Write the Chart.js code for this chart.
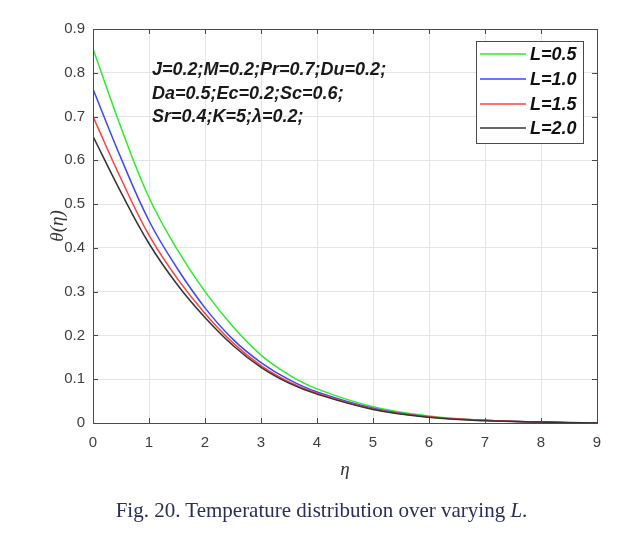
<!DOCTYPE html>
<html><head><meta charset="utf-8">
<script src="https://cdn.jsdelivr.net/npm/chart.js@4.4.1/dist/chart.umd.min.js"></script>
<style>
html,body{margin:0;padding:0;background:#fff;}
#wrap{position:relative;width:629px;height:545px;overflow:hidden;}
#c{position:absolute;left:0;top:0;}
#cap{position:absolute;left:0;width:643px;top:497px;text-align:center;font-family:"Liberation Serif","Times New Roman",serif;font-size:21px;line-height:26px;color:#2b2d5e;white-space:nowrap;}
</style></head><body>
<div id="wrap"><canvas id="c" width="629" height="545"></canvas>
<div id="cap">Fig. 20. Temperature distribution over varying <i>L</i>.</div></div>
<script>
// ---- data ----
const eta = [0, 0.5, 1, 1.5, 2, 2.5, 3, 3.5, 4, 5, 6, 7, 8, 9];
const seriesLabels = ['L=0.5', 'L=1.0', 'L=1.5', 'L=2.0'];
const thetaL05 = [0.855, 0.675, 0.515, 0.397, 0.300, 0.220, 0.155, 0.110, 0.078, 0.037, 0.016, 0.006, 0.002, 0.000];
const thetaL10 = [0.763, 0.605, 0.462, 0.354, 0.263, 0.191, 0.138, 0.099, 0.071, 0.034, 0.014, 0.006, 0.002, 0.000];
const thetaL15 = [0.700, 0.558, 0.429, 0.331, 0.250, 0.183, 0.131, 0.094, 0.068, 0.032, 0.014, 0.006, 0.002, 0.000];
const thetaL20 = [0.655, 0.527, 0.410, 0.317, 0.241, 0.177, 0.127, 0.091, 0.066, 0.031, 0.013, 0.005, 0.002, 0.000];
const xTicks = [0, 1, 2, 3, 4, 5, 6, 7, 8, 9];
const yTicks = [0, 0.1, 0.2, 0.3, 0.4, 0.5, 0.6, 0.7, 0.8, 0.9];
const yTickLabels = ['0', '0.1', '0.2', '0.3', '0.4', '0.5', '0.6', '0.7', '0.8', '0.9'];
const annotationLines = ['J=0.2;M=0.2;Pr=0.7;Du=0.2;', 'Da=0.5;Ec=0.2;Sc=0.6;', 'Sr=0.4;K=5;\u03bb=0.2;'];
const xTitle = '\u03b7';
const yTitle = '\u03b8(\u03b7)';

const seriesValues = [thetaL05, thetaL10, thetaL15, thetaL20];
const seriesColors = ['#2aee2a', '#3a46ff', '#ff3f3f', '#333333'];

const datasets = seriesValues.map((vals, i) => ({
  label: seriesLabels[i],
  data: eta.map((x, j) => ({x: x, y: vals[j]})),
  borderColor: seriesColors[i],
  borderWidth: 1.5,
  pointRadius: 0,
  fill: false,
  tension: 0.4,
  order: seriesValues.length - 1 - i
}));

const framePlugin = {
  id: 'frame',
  afterDraw(chart) {
    const ctx = chart.ctx, a = chart.chartArea;
    const xs = chart.scales.x, ys = chart.scales.y;
    ctx.save();
    ctx.strokeStyle = '#4a4a4a';
    ctx.lineWidth = 1;
    ctx.strokeRect(Math.round(a.left) + 0.5, Math.round(a.top) + 0.5, Math.round(a.right - a.left), Math.round(a.bottom - a.top));
    const tl = 5;
    ctx.beginPath();
    xTicks.forEach(v => {
      const px = Math.round(xs.getPixelForValue(v)) + 0.5;
      ctx.moveTo(px, a.bottom); ctx.lineTo(px, a.bottom - tl);
      ctx.moveTo(px, a.top); ctx.lineTo(px, a.top + tl);
    });
    yTicks.forEach(v => {
      const py = Math.round(ys.getPixelForValue(v)) + 0.5;
      ctx.moveTo(a.left, py); ctx.lineTo(a.left + tl, py);
      ctx.moveTo(a.right, py); ctx.lineTo(a.right - tl, py);
    });
    ctx.stroke();
    ctx.fillStyle = '#1a1a1a';
    ctx.font = 'italic bold 18px "Liberation Sans", Arial, sans-serif';
    ctx.textBaseline = 'middle';
    ctx.textAlign = 'left';
    const ay = [70, 94, 117];
    annotationLines.forEach((t, i) => ctx.fillText(t, 152, ay[i]));
    const lx = 476, ly = 41, lw = 107, lh = 102;
    ctx.fillStyle = '#fff';
    ctx.fillRect(lx, ly, lw, lh);
    ctx.strokeStyle = '#4a4a4a';
    ctx.strokeRect(lx + 0.5, ly + 0.5, lw, lh);
    const rows = [54, 79, 104, 128];
    chart.data.datasets.forEach((ds, i) => {
      ctx.strokeStyle = ds.borderColor;
      ctx.lineWidth = 1.5;
      ctx.beginPath();
      ctx.moveTo(480, rows[i]); ctx.lineTo(526, rows[i]);
      ctx.stroke();
      ctx.fillStyle = '#111';
      ctx.fillText(ds.label, 530, rows[i] + 1);
    });
    ctx.restore();
  }
};

new Chart(document.getElementById('c'), {
  type: 'line',
  data: {datasets},
  options: {
    responsive: false,
    animation: false,
    layout: {padding: {top: 29, right: 32, left: 0, bottom: 0}},
    plugins: {legend: {display: false}, tooltip: {enabled: false}},
    scales: {
      x: {
        type: 'linear', min: 0, max: 9,
        afterFit: s => { s.height = 122; },
        afterBuildTicks: s => { s.ticks = xTicks.map(v => ({value: v})); },
        grid: {color: '#e4e4e4', drawTicks: false, lineWidth: 1},
        border: {display: false},
        ticks: {padding: 11, color: '#404040', font: {family: '"Liberation Sans", Arial, sans-serif', size: 15},
                callback: v => String(v)},
        title: {display: true, text: xTitle, color: '#333', padding: {bottom: 64, top: 0},
                font: {family: '"Liberation Serif", "Times New Roman", serif', size: 19, style: 'italic'}}
      },
      y: {
        type: 'linear', min: 0, max: 0.9,
        afterFit: s => { s.width = 93; },
        afterBuildTicks: s => { s.ticks = yTicks.map(v => ({value: v})); },
        grid: {color: '#e4e4e4', drawTicks: false, lineWidth: 1},
        border: {display: false},
        ticks: {padding: 8, color: '#404040', font: {family: '"Liberation Sans", Arial, sans-serif', size: 15},
                callback: (v) => yTickLabels[yTicks.findIndex(t => Math.abs(t - v) < 1e-9)]},
        title: {display: true, text: yTitle, color: '#333', padding: {top: 47, bottom: 0},
                font: {family: '"Liberation Serif", "Times New Roman", serif', size: 19, style: 'italic'}}
      }
    }
  },
  plugins: [framePlugin]
});
</script>
</body></html>
